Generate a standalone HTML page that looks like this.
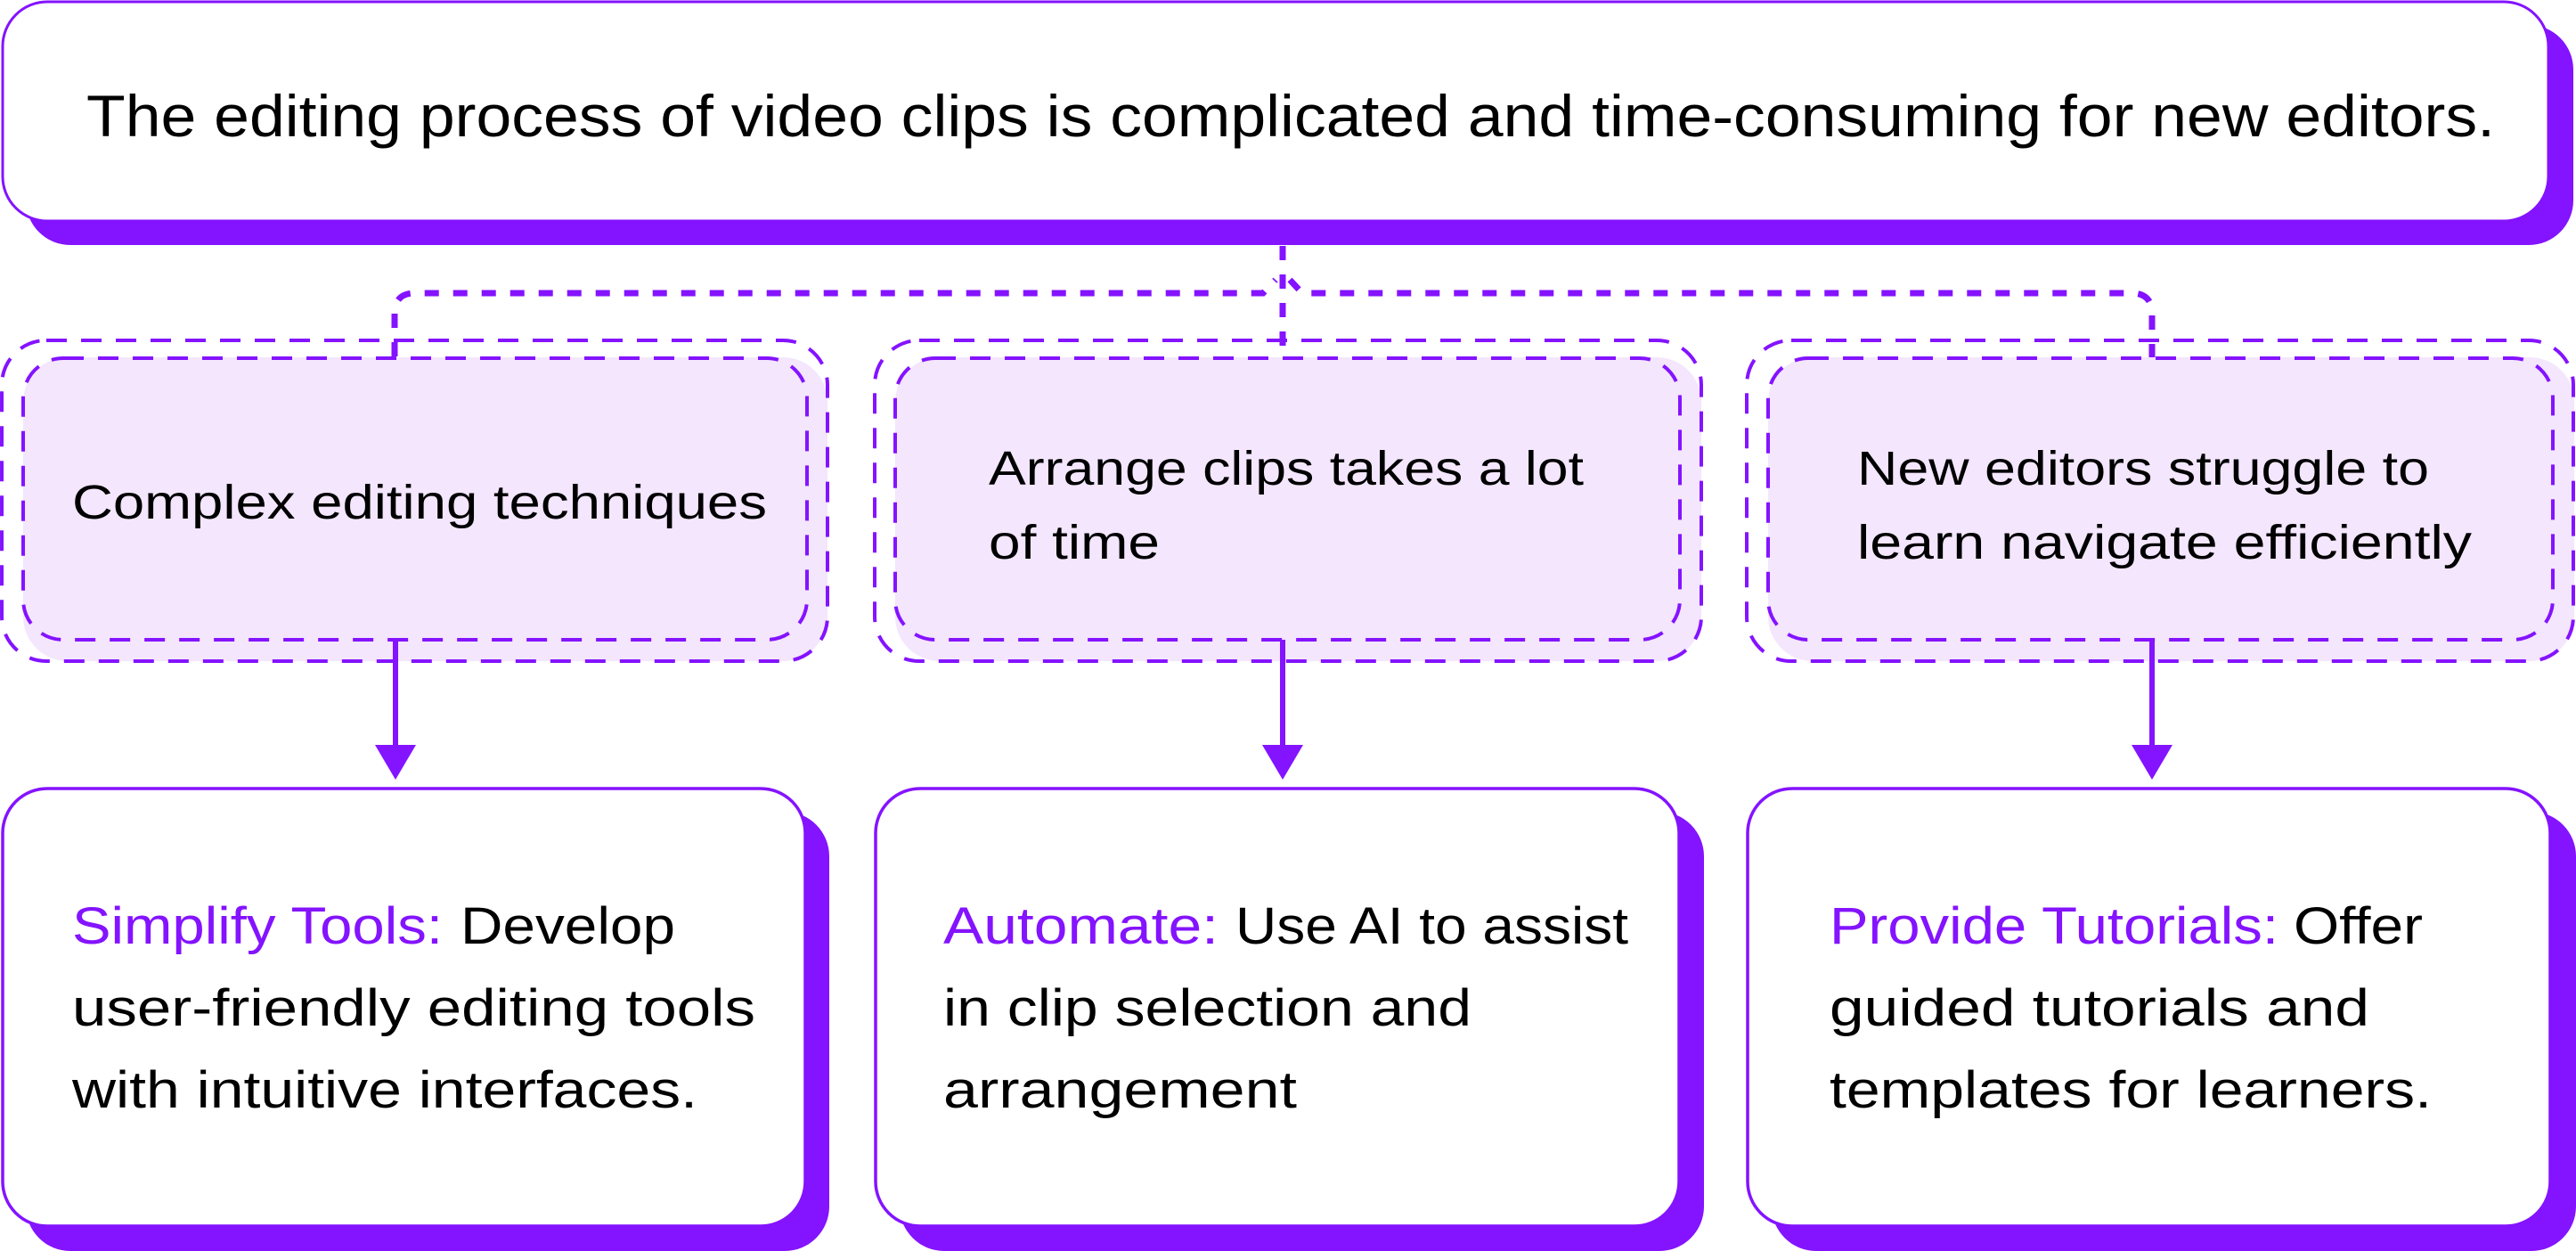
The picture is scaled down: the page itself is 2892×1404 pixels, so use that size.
<!DOCTYPE html>
<html><head><meta charset="utf-8"><style>
html,body{margin:0;padding:0;background:#fff;}
svg{display:block;}
text{font-family:"Liberation Sans",sans-serif;fill:#000;}
</style></head><body>
<svg width="2892" height="1404" viewBox="0 0 2892 1404" xmlns="http://www.w3.org/2000/svg">
<!-- top box -->
<rect x="29" y="28" width="2860" height="247" rx="50" fill="#8413FF"/>
<rect x="3" y="2" width="2858" height="246" rx="50" fill="#fff" stroke="#8413FF" stroke-width="3"/>
<text x="97" y="153" font-size="66" textLength="2704" lengthAdjust="spacingAndGlyphs">The editing process of video clips is complicated and time-consuming for new editors.</text>

<!-- connectors -->
<g fill="none" stroke="#8413FF" stroke-width="7" stroke-dasharray="16 16">
<path d="M1440 276 V402"/>
<path d="M443 400 V352 Q443 329 466 329 H1418 L1432 314"/>
<path d="M2416 402 V352 Q2416 329 2393 329 H1462 L1448 314"/>
</g>

<!-- middle boxes -->
<g>
<rect x="26" y="401" width="903" height="341" rx="50" fill="#F3E6FD"/>
<rect x="1005" y="401" width="905" height="341" rx="50" fill="#F3E6FD"/>
<rect x="1985" y="401" width="905" height="341" rx="50" fill="#F3E6FD"/>
</g>
<g fill="none" stroke="#8413FF" stroke-width="4" stroke-dasharray="23 16">
<rect x="2" y="382" width="927" height="360" rx="50"/>
<rect x="26" y="402" width="880" height="316" rx="45"/>
<rect x="982" y="382" width="928" height="360" rx="50"/>
<rect x="1005" y="402" width="881" height="316" rx="45"/>
<rect x="1961" y="382" width="928" height="360" rx="50"/>
<rect x="1985" y="402" width="881" height="316" rx="45"/>
</g>
<g font-size="54">
<text x="81" y="582" textLength="780" lengthAdjust="spacingAndGlyphs">Complex editing techniques</text>
<text x="1110" y="544" textLength="668" lengthAdjust="spacingAndGlyphs">Arrange clips takes a lot</text>
<text x="1110" y="627" textLength="192" lengthAdjust="spacingAndGlyphs">of time</text>
<text x="2085" y="544" textLength="642" lengthAdjust="spacingAndGlyphs">New editors struggle to</text>
<text x="2085" y="627" textLength="690" lengthAdjust="spacingAndGlyphs">learn navigate efficiently</text>
</g>

<!-- arrows -->
<g stroke="#8413FF" stroke-width="6">
<line x1="444" y1="718" x2="444" y2="840"/>
<line x1="1440" y1="718" x2="1440" y2="840"/>
<line x1="2416" y1="718" x2="2416" y2="840"/>
</g>
<g fill="#8413FF">
<polygon points="421,836 467,836 444,875"/>
<polygon points="1417,836 1463,836 1440,875"/>
<polygon points="2393,836 2439,836 2416,875"/>
</g>

<!-- bottom boxes -->
<g fill="#8413FF">
<rect x="29" y="911" width="902" height="493" rx="50"/>
<rect x="1010" y="911" width="903" height="493" rx="50"/>
<rect x="1989" y="911" width="903" height="493" rx="50"/>
</g>
<g fill="#fff" stroke="#8413FF" stroke-width="3.5">
<rect x="3" y="885" width="901" height="491" rx="50"/>
<rect x="983" y="885" width="902" height="491" rx="50"/>
<rect x="1962" y="885" width="901" height="491" rx="50"/>
</g>
<g font-size="58">
<text x="81" y="1059" style="fill:#8413FF" textLength="416" lengthAdjust="spacingAndGlyphs">Simplify Tools:</text>
<text x="517" y="1059" textLength="241" lengthAdjust="spacingAndGlyphs">Develop</text>
<text x="81" y="1151" textLength="767" lengthAdjust="spacingAndGlyphs">user-friendly editing tools</text>
<text x="81" y="1243" textLength="702" lengthAdjust="spacingAndGlyphs">with intuitive interfaces.</text>

<text x="1059" y="1059" style="fill:#8413FF" textLength="309" lengthAdjust="spacingAndGlyphs">Automate:</text>
<text x="1387" y="1059" textLength="441" lengthAdjust="spacingAndGlyphs">Use AI to assist</text>
<text x="1059" y="1151" textLength="593" lengthAdjust="spacingAndGlyphs">in clip selection and</text>
<text x="1059" y="1243" textLength="397" lengthAdjust="spacingAndGlyphs">arrangement</text>

<text x="2054" y="1059" style="fill:#8413FF" textLength="504" lengthAdjust="spacingAndGlyphs">Provide Tutorials:</text>
<text x="2575" y="1059" textLength="145" lengthAdjust="spacingAndGlyphs">Offer</text>
<text x="2054" y="1151" textLength="606" lengthAdjust="spacingAndGlyphs">guided tutorials and</text>
<text x="2054" y="1243" textLength="676" lengthAdjust="spacingAndGlyphs">templates for learners.</text>
</g>
</svg>
</body></html>
